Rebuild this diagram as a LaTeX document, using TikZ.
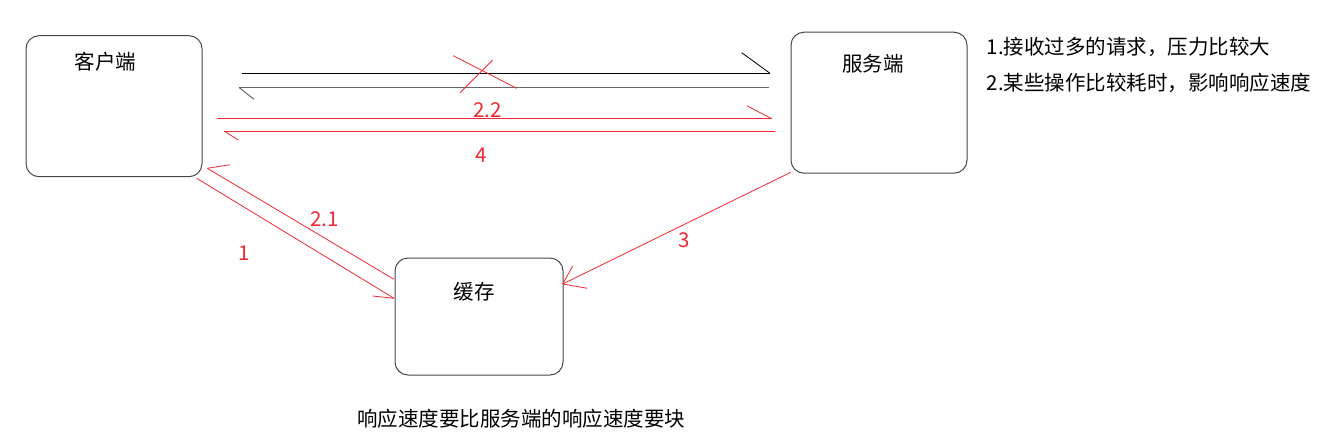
\documentclass[tikz,border=0pt]{standalone}
\usepackage{fontspec}
\setmainfont{Noto Sans CJK SC}
\usepackage{tikz}
\usetikzlibrary{calc}
\definecolor{boxgray}{RGB}{70,70,70}
\definecolor{penred}{RGB}{238,40,52}
\tikzset{
  box/.style={draw=boxgray, line width=1pt, rounded corners=13pt, inner sep=0pt},
  txt/.style={inner sep=0pt, font=\fontsize{20.5}{24}\selectfont},
  rtxt/.style={txt, text=penred},
  pen/.style={line width=0.8pt, black},
  redpen/.style={line width=0.8pt, penred}
}

\begin{document}
\begin{tikzpicture}[x=1pt,y=-1pt]
\useasboundingbox (0,0) rectangle (1338,432);
\node [box, minimum width=176pt, minimum height=141pt] (client) at (114,106.2) {};
\node [box, minimum width=176pt, minimum height=141pt] (server) at (879,102.7) {};
\node [box, minimum width=168pt, minimum height=117pt] (cache) at (479,316.5) {};
\node [txt] (clientlbl) at (105.5,61.7) {客户端};
\node [txt] (serverlbl) at (873,63.3) {服务端};
\node [txt] (cachelbl) at (474,291.7) {缓存};

\node [txt, anchor=west] (note1) at (986.7,46.7) {1.接收过多的请求，压力比较大};
\node [txt, anchor=west] (note2) at (986.7,83.3) {2.某些操作比较耗时，影响响应速度};
\node [txt] (bottomnote) at (521,419) {响应速度要比服务端的响应速度要块};

% client <-> server, black
\coordinate (a1s) at (241.7,73.3);
\coordinate (a1e) at (770,73.3);
\coordinate (a2s) at (769.3,87.7);
\coordinate (a2e) at (239.3,87.7);
\draw [pen] (a1s) -- (a1e);
\draw [pen] (a1e) -- ++(-28.3,-20.6);
\draw [pen, black!60] (a2s) -- (a2e);
\draw [pen, black!70] (a2e) -- ++(14.7,11.6);
% crossed out
\draw [redpen] (453.3,55.7) -- (516.7,88.3);
\draw [redpen] (492.7,60) -- (460,92.7);

% client <-> server, red
\coordinate (r1s) at (216.7,118.7);
\coordinate (r1e) at (771.7,118.7);
\coordinate (r2s) at (775,131);
\coordinate (r2e) at (224,131);
\draw [redpen] (r1s) -- (r1e);
\draw [redpen] (r1e) -- ++(-25,-13);
\draw [redpen] (r2s) -- (r2e);
\draw [redpen] (r2e) -- ++(14.3,9);
\node [rtxt] (l22) at (487.3,110) {2.2};
\node [rtxt] (l4) at (480.7,155) {4};

% client <-> cache
\coordinate (c1s) at (196.7,178.3);
\coordinate (c1e) at (394,298.3);
\coordinate (c2s) at (394,279.3);
\coordinate (c2e) at (207.3,168.3);
\draw [redpen] (c1s) -- (c1e);
\draw [redpen] (c1e) -- ++(-21.3,-2.3);
\draw [redpen] (c2s) -- (c2e);
\draw [redpen] (c2e) -- ++(22.7,-3.6);
\node [rtxt] (l1) at (244,253.3) {1};
\node [rtxt] (l21) at (324.3,219.3) {2.1};

% server -> cache
\coordinate (s3s) at (790.7,172.3);
\coordinate (s3e) at (562.7,284);
\draw [redpen] (s3s) -- (s3e);
\draw [redpen] (s3e) -- ++(10,-18);
\draw [redpen] (s3e) -- ++(24.6,4.3);
\node [rtxt] (l3) at (684,240) {3};
\end{tikzpicture}
\end{document}
